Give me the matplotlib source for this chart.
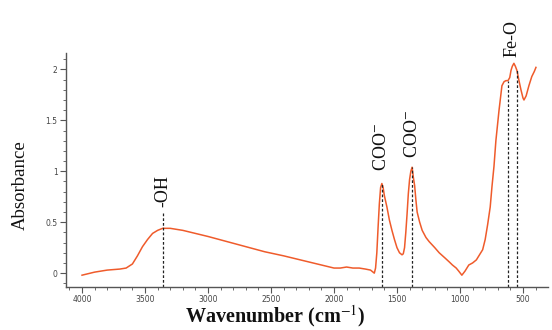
import matplotlib
matplotlib.use("Agg")
import matplotlib.pyplot as plt
from matplotlib.ticker import MultipleLocator

plt.rcParams['mathtext.fontset'] = 'stix'
plt.rcParams['font.family'] = ['Liberation Serif', 'DejaVu Serif']

# FTIR spectrum
wavenumber = [4000, 3900, 3800, 3700, 3650, 3600, 3560, 3520, 3480, 3440, 3400, 3360,
              3300, 3250, 3200, 3100, 3000, 2850, 2700, 2550, 2400, 2300, 2200, 2100,
              2000, 1950, 1900, 1850, 1800, 1750, 1710, 1690, 1680, 1670, 1660, 1650,
              1640, 1630, 1620, 1610, 1600, 1580, 1560, 1540, 1520, 1500, 1480, 1460,
              1450, 1440, 1430, 1420, 1410, 1400, 1390, 1380, 1370, 1360, 1350, 1340,
              1320, 1300, 1270, 1245, 1200, 1165, 1120, 1085, 1060, 1030, 1010, 985,
              960, 930, 900, 870, 845, 820, 800, 780, 760, 746, 730, 715, 690, 667,
              650, 635, 619, 605, 595, 585, 572, 560, 548, 530, 516, 500, 492, 475,
              453, 430, 410, 397]
absorbance = [-0.02, 0.01, 0.03, 0.04, 0.05, 0.09, 0.17, 0.26, 0.33, 0.39, 0.42, 0.44,
              0.44, 0.43, 0.42, 0.39, 0.36, 0.31, 0.26, 0.21, 0.17, 0.14, 0.11, 0.08,
              0.05, 0.05, 0.06, 0.05, 0.05, 0.04, 0.03, 0.01, 0.0, 0.05, 0.2, 0.45,
              0.68, 0.84, 0.88, 0.84, 0.76, 0.65, 0.52, 0.42, 0.33, 0.25, 0.2, 0.18,
              0.19, 0.25, 0.4, 0.58, 0.78, 0.92, 1.0, 1.04, 0.94, 0.86, 0.72, 0.6,
              0.5, 0.42, 0.35, 0.31, 0.25, 0.2, 0.15, 0.11, 0.08, 0.05, 0.02, -0.02,
              0.02, 0.08, 0.1, 0.13, 0.18, 0.23, 0.33, 0.48, 0.65, 0.85, 1.05, 1.3,
              1.6, 1.84, 1.88, 1.89, 1.89, 1.92, 1.99, 2.03, 2.06, 2.03, 1.99, 1.88,
              1.8, 1.72, 1.70, 1.74, 1.84, 1.93, 1.98, 2.02]

# Band assignments: label, wavenumber, label bottom (absorbance), line top
band_labels = ['-OH', 'COO$^{-}$', 'COO$^{-}$', 'Fe-O']
band_label_pos = [3359, 1622, 1378, 585]
band_label_bottom = [0.65, 1.0, 1.13, 2.12]
dash_pos = [3359, 1622, 1378, 619, 548]
dash_top = [0.61, 0.88, 1.04, 1.89, 1.99]

xticks = [4000, 3500, 3000, 2500, 2000, 1500, 1000, 500]
yticks = [0, 0.5, 1, 1.5, 2]
ytick_labels = ['0', '0.5', '1', '1.5', '2']

fig = plt.figure(figsize=(5.52, 3.30), dpi=100)
ax = fig.add_axes([0.1196, 0.130, 0.873, 0.709])

ax.plot(wavenumber, absorbance, color='#ef5b2b', lw=1.1)

for x, top in zip(dash_pos, dash_top):
    ax.plot([x, x], [-0.14, top], color='#222222', lw=0.9,
            linestyle=(0, (2.2, 1.6)), clip_on=False)

for lab, x, yb in zip(band_labels, band_label_pos, band_label_bottom):
    ax.text(x, yb, lab, rotation=90, ha='center', va='bottom',
            fontsize=13, color='#111111', clip_on=False)

ax.set_xlim(4127, 302)
ax.set_ylim(-0.137, 2.16)
ax.set_xticks(xticks)
ax.set_xticklabels([str(v) for v in xticks])
ax.set_yticks(yticks)
ax.set_yticklabels(ytick_labels)
ax.xaxis.set_minor_locator(MultipleLocator(100))
ax.yaxis.set_minor_locator(MultipleLocator(0.1))

for s in ['top', 'right']:
    ax.spines[s].set_visible(False)
for s in ['left', 'bottom']:
    ax.spines[s].set_color('#555555')
    ax.spines[s].set_linewidth(1.0)

ax.tick_params(which='major', length=4, width=0.8, color='#555555',
               labelsize=5.5, labelcolor='#444444', pad=2)
ax.tick_params(which='minor', length=2, width=0.6, color='#555555')
for lbl in ax.get_xticklabels() + ax.get_yticklabels():
    lbl.set_family('DejaVu Sans')

fig.text(20 / 552, 1 - 185 / 330, 'Absorbance', rotation=90, ha='center',
         va='center', fontsize=13.5, color='#111111')
fig.text(275 / 552, 1 - 316 / 330, 'Wavenumber (cm$^{-1}$)', ha='center',
         va='center', fontsize=14.5, color='#111111', fontweight='bold')

fig.savefig('out.png', dpi=100)
